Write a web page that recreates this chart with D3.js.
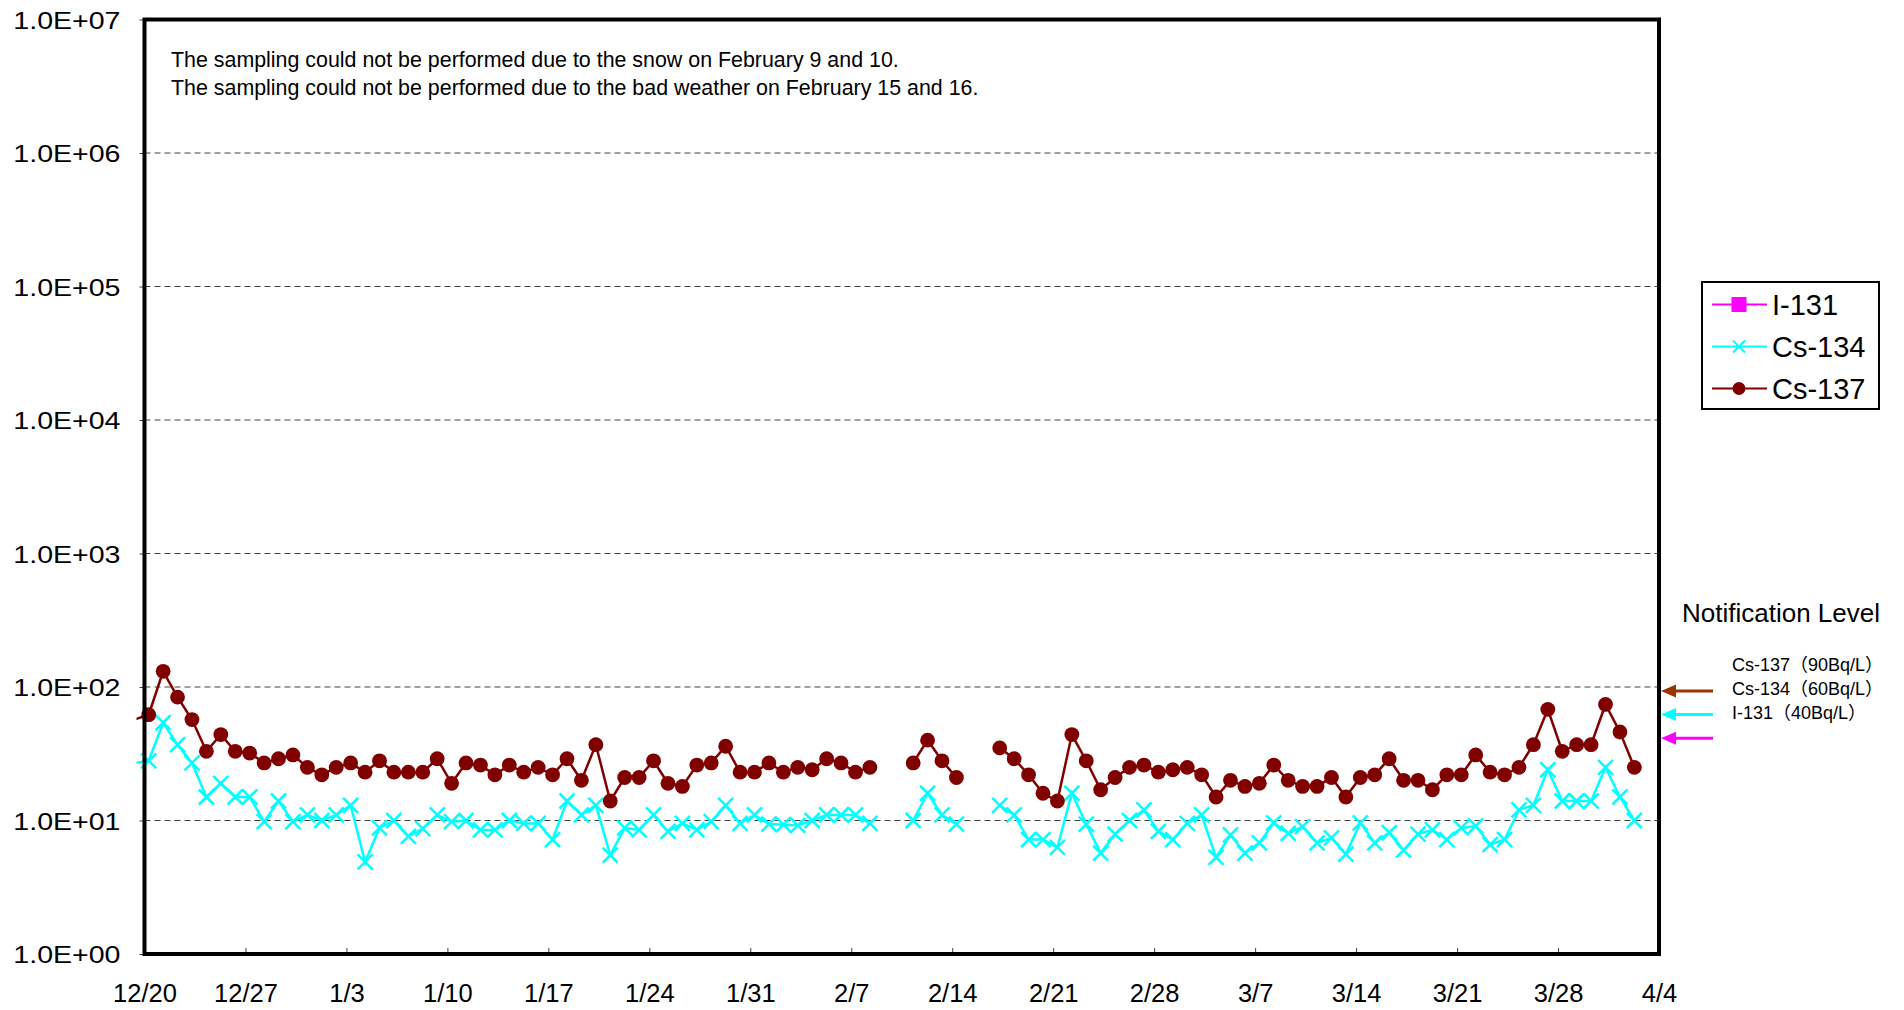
<!DOCTYPE html>
<html>
<head>
<meta charset="utf-8">
<script src="https://cdn.jsdelivr.net/npm/d3@7"></script>
<style>
  body { margin: 0; background: #fff; }
  text { font-family: "Liberation Sans", Arial, "Noto Sans CJK JP", sans-serif; fill: #000; }
</style>
</head>
<body>
<div id="chart"></div>
<script>
// daily samples, first value is 12/19 (only its line stub shows left of the axis)
var firstDay = new Date(2013, 11, 19);
// Bq/L, null = no sampling
var cs137 = [57, 62, 131, 84, 57, 33, 44, 33, 32, 27, 29, 31, 25, 22, 25, 27, 23, 28, 23, 23,
  23, 29, 19, 27, 26, 22, 26, 23, 25, 22, 29, 20, 37, 14, 21, 21, 28, 19, 18, 26,
  27, 36, 23, 23, 27, 23, 25, 24, 29, 27, 23, 25, null, null, 27, 40, 28, 21, null, null,
  35, 29, 22, 16, 14, 44, 28, 17, 21, 25, 26, 23, 24, 25, 22, 15, 20, 18, 19, 26,
  20, 18, 18, 21, 15, 21, 22, 29, 20, 20, 17, 22, 22, 31, 23, 22, 25, 37, 68, 33,
  37, 37, 74, 46, 25];
var cs134 = [27, 28, 54, 37, 27, 15, 19, 15, 15, 9.8, 14, 9.8, 11, 10, 11, 13, 4.9, 8.8, 10, 7.6,
  8.7, 11, 9.8, 10, 8.5, 8.5, 10, 9.5, 9.5, 7.2, 14, 11, 13, 5.5, 8.8, 8.5, 11, 8.3, 9.5, 8.5,
  9.8, 13, 9.5, 11, 9.4, 9.3, 9.2, 10, 11, 11, 11, 9.5, null, null, 10, 16, 11, 9.4, null, null,
  13, 11, 7.2, 7.2, 6.3, 16, 9.4, 5.7, 7.9, 10, 12, 8.3, 7.2, 9.5, 11, 5.3, 7.8, 5.7, 6.8, 9.6,
  8.0, 9.0, 6.8, 7.4, 5.6, 9.6, 6.8, 8.1, 6.0, 7.9, 8.5, 7.2, 8.8, 9.1, 6.6, 7.2, 12, 13, 24, 14,
  14, 14, 25, 15, 10];
var i131 = []; // not detected, nothing plotted

var seriesNames = ["I-131", "Cs-134", "Cs-137"];
var seriesColors = ["#ff00ff", "#00ffff", "#800000"];

var levelNames = ["Cs-137", "Cs-134", "I-131"];
var levelValues = [90, 60, 40];
var levelColors = ["#993300", "#00ffff", "#ff00ff"];

var notes = [
  "The sampling could not be performed due to the snow on February 9 and 10.",
  "The sampling could not be performed due to the bad weather on February 15 and 16."
];

var width = 1904, height = 1010;
var plot = {left: 144.5, right: 1659, top: 19.5, bottom: 954};

var svg = d3.select("#chart").append("svg")
  .attr("width", width)
  .attr("height", height);

var startDate = new Date(2013, 11, 20);
var x = d3.scaleTime()
  .domain([startDate, new Date(2014, 3, 4)])
  .range([plot.left, plot.right]);

var y = d3.scaleLog()
  .domain([1, 1e7])
  .range([plot.bottom, plot.top]);

// sampling time is in the morning, points sit a bit right of midnight
function dayOf(i) { return d3.timeHour.offset(d3.timeDay.offset(firstDay, i), 7); }

function toPoints(arr) {
  return arr.map(function(v, i) { return {date: dayOf(i), value: v}; });
}
function shown(d) { return d.value != null && d.date >= startDate; }

// grid lines
var decades = [1e1, 1e2, 1e3, 1e4, 1e5, 1e6];
svg.append("g").selectAll("line")
  .data(decades).enter().append("line")
  .attr("x1", plot.left).attr("x2", plot.right)
  .attr("y1", function(d) { return y(d); })
  .attr("y2", function(d) { return y(d); })
  .attr("stroke", "#404040")
  .attr("stroke-width", 1)
  .attr("stroke-dasharray", "6,4");

// x axis
var xTicks = d3.timeDay.range(startDate, new Date(2014, 3, 5), 7);
var xAxis = svg.append("g")
  .attr("transform", "translate(0," + plot.bottom + ")")
  .call(d3.axisBottom(x).tickValues(xTicks).tickSize(-6).tickPadding(0)
    .tickFormat(d3.timeFormat("%-m/%-d")));
xAxis.select(".domain").remove();
xAxis.selectAll(".tick line").attr("stroke", "#404040");
xAxis.selectAll(".tick text")
  .attr("y", 47.5)
  .attr("dy", null)
  .style("font-size", "25.5px");

// y axis
var yAxis = svg.append("g")
  .attr("transform", "translate(" + plot.left + ",0)")
  .call(d3.axisLeft(y).tickValues([1, 1e1, 1e2, 1e3, 1e4, 1e5, 1e6, 1e7]).tickSize(5)
    .tickFormat(function(d) {
      var e = Math.round(Math.log10(d));
      return "1.0E+" + (e < 10 ? "0" : "") + e;
    }));
yAxis.select(".domain").remove();
yAxis.selectAll(".tick line").attr("stroke", "#404040");
yAxis.selectAll(".tick text")
  .attr("x", null).attr("dy", null)
  .attr("text-anchor", "end")
  .attr("transform", "translate(-24,8.6) scale(1.19,1)")
  .style("font-size", "24px");

// notes
svg.append("g").selectAll("text")
  .data(notes).enter().append("text")
  .attr("x", 171)
  .attr("y", function(d, i) { return 66.5 + i * 28; })
  .style("font-size", "21.4px")
  .text(function(d) { return d; });

// series
svg.append("clipPath").attr("id", "clip")
  .append("rect")
  .attr("x", plot.left - 8).attr("y", plot.top)
  .attr("width", plot.right - plot.left + 8)
  .attr("height", plot.bottom - plot.top);

var line = d3.line()
  .defined(function(d) { return d.value != null; })
  .x(function(d) { return x(d.date); })
  .y(function(d) { return y(d.value); });

var plotG = svg.append("g").attr("clip-path", "url(#clip)");

var p134 = toPoints(cs134);
plotG.append("path")
  .datum(p134)
  .attr("fill", "none")
  .attr("stroke", seriesColors[1])
  .attr("stroke-width", 2.5)
  .attr("d", line);

var xs = 7.5;
plotG.selectAll(".xmark")
  .data(p134.filter(shown))
  .enter().append("path")
  .attr("class", "xmark")
  .attr("transform", function(d) { return "translate(" + x(d.date) + "," + y(d.value) + ")"; })
  .attr("d", "M" + -xs + "," + -xs + "L" + xs + "," + xs + "M" + -xs + "," + xs + "L" + xs + "," + -xs)
  .attr("stroke", seriesColors[1])
  .attr("stroke-width", 2.5)
  .attr("fill", "none");

var p137 = toPoints(cs137);
plotG.append("path")
  .datum(p137)
  .attr("fill", "none")
  .attr("stroke", seriesColors[2])
  .attr("stroke-width", 2.5)
  .attr("d", line);

plotG.selectAll(".dot")
  .data(p137.filter(shown))
  .enter().append("circle")
  .attr("class", "dot")
  .attr("cx", function(d) { return x(d.date); })
  .attr("cy", function(d) { return y(d.value); })
  .attr("r", 7.4)
  .attr("fill", seriesColors[2]);

plotG.selectAll(".sq")
  .data(toPoints(i131).filter(shown))
  .enter().append("rect")
  .attr("x", function(d) { return x(d.date) - 6; })
  .attr("y", function(d) { return y(d.value) - 6; })
  .attr("width", 12).attr("height", 12)
  .attr("fill", seriesColors[0]);

// frame
svg.append("rect")
  .attr("x", plot.left).attr("y", plot.top)
  .attr("width", plot.right - plot.left)
  .attr("height", plot.bottom - plot.top)
  .attr("fill", "none")
  .attr("stroke", "#000")
  .attr("stroke-width", 4);

// legend
var legend = svg.append("g").attr("transform", "translate(1702,282)");
legend.append("rect")
  .attr("width", 177).attr("height", 127)
  .attr("fill", "#fff")
  .attr("stroke", "#000")
  .attr("stroke-width", 2);

var item = legend.selectAll(".item")
  .data(seriesNames).enter().append("g")
  .attr("class", "item")
  .attr("transform", function(d, i) { return "translate(0," + (22.5 + i * 42) + ")"; });

item.append("line")
  .attr("x1", 10).attr("x2", 65)
  .attr("stroke", function(d, i) { return seriesColors[i]; })
  .attr("stroke-width", 2);

item.each(function(d, i) {
  var g = d3.select(this);
  if (i === 0) {
    g.append("rect").attr("x", 29.5).attr("y", -7.5).attr("width", 15).attr("height", 15)
      .attr("fill", seriesColors[0]);
  } else if (i === 1) {
    var s = 6;
    g.append("path")
      .attr("transform", "translate(37,0)")
      .attr("d", "M" + -s + "," + -s + "L" + s + "," + s + "M" + -s + "," + s + "L" + s + "," + -s)
      .attr("stroke", seriesColors[1]).attr("stroke-width", 2);
  } else {
    g.append("circle").attr("cx", 37).attr("r", 6.5).attr("fill", seriesColors[2]);
  }
});

item.append("text")
  .attr("x", 70)
  .attr("y", 10.5)
  .style("font-size", "29px")
  .text(function(d) { return d; });

// notification level
svg.append("text")
  .attr("x", 1682)
  .attr("y", 621.5)
  .style("font-size", "26px")
  .text("Notification Level");

svg.append("g").selectAll("text")
  .data(levelNames).enter().append("text")
  .attr("x", 1732)
  .attr("y", function(d, i) { return 670.5 + i * 24.3; })
  .style("font-size", "18px")
  .text(function(d, i) { return d + "（" + levelValues[i] + "Bq/L）"; });

var arrows = svg.append("g").selectAll("g")
  .data(levelValues).enter().append("g")
  .attr("transform", function(d) { return "translate(" + (plot.right + 2) + "," + (y(d) - 2) + ")"; });

arrows.append("line")
  .attr("x1", 12).attr("x2", 52)
  .attr("stroke", function(d, i) { return levelColors[i]; })
  .attr("stroke-width", 3);

arrows.append("path")
  .attr("d", "M0,0L15,-6.5L15,6.5Z")
  .attr("fill", function(d, i) { return levelColors[i]; });
</script>
</body>
</html>
